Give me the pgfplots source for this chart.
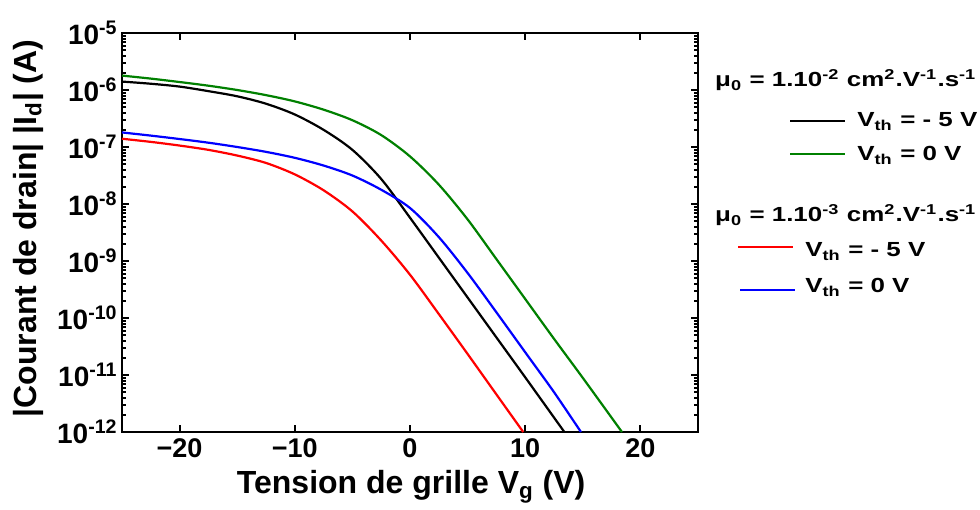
\documentclass[border=0pt]{standalone}
\usepackage{fontspec}
\setmainfont{Liberation Sans}
\usepackage{graphicx}
\usepackage{pgfplots}
\pgfplotsset{compat=1.18}

\definecolor{cgreen}{RGB}{0,128,0}
\newcommand{\legfont}{\bfseries\fontsize{10.2}{12}\selectfont}
\newcommand{\leg}[1]{{\legfont\scalebox{1.27}[1]{#1}}}

% mu0 = 1e-2, Vth = -5 V
\pgfplotstableread{
x y
-25 1.406e-6
-22.5 1.288e-6
-20 1.148e-6
-17.5 9.55e-7
-15 7.76e-7
-12.5 5.75e-7
-10 3.72e-7
-7.5 2.0e-7
-5 8.91e-8
-2.5 2.75e-8
0 5.75e-9
2.5 1.148e-9
5 2.29e-10
7.5 4.57e-11
10 9.12e-12
13.4 1.0e-12
}\blackdata
% mu0 = 1e-2, Vth = 0 V
\pgfplotstableread{
x y
-25 1.79e-6
-22.5 1.585e-6
-20 1.38e-6
-17.5 1.19e-6
-15 1.0e-6
-12.5 8.13e-7
-10 6.31e-7
-7.5 4.52e-7
-5 2.95e-7
-2.5 1.62e-7
0 6.84e-8
2.5 2.19e-8
5 5.37e-9
7.5 1.08e-9
10 2.16e-10
12.5 4.32e-11
15 8.91e-12
18.4 1.0e-12
}\greendata
% mu0 = 1e-3, Vth = -5 V
\pgfplotstableread{
x y
-25 1.396e-7
-22.5 1.23e-7
-20 1.06e-7
-17.5 8.91e-8
-15 7.08e-8
-12.5 5.25e-8
-10 3.31e-8
-7.5 1.74e-8
-5 7.41e-9
-2.5 2.29e-9
0 5.75e-10
2.5 1.175e-10
5 2.34e-11
7.5 4.57e-12
9.83 1.0e-12
}\reddata
% mu0 = 1e-3, Vth = 0 V
\pgfplotstableread{
x y
-25 1.80e-7
-22.5 1.585e-7
-20 1.38e-7
-17.5 1.19e-7
-15 1.0e-7
-12.5 8.22e-8
-10 6.46e-8
-7.5 4.73e-8
-5 3.16e-8
-2.5 1.78e-8
0 8.51e-9
2.5 2.63e-9
5 6.17e-10
7.5 1.26e-10
10 2.51e-11
12.5 5.01e-12
14.84 1.0e-12
}\bluedata

\begin{document}
\begin{tikzpicture}
\begin{scope}[x=0.5pt,y=-0.5pt,shift={(-122,-432)}]
\path[use as bounding box] (0,0) rectangle (980,502);
\end{scope}

\begin{axis}[
    at={(0,0)}, anchor=south west,
    width=288pt, height=199.5pt, scale only axis,
    xmin=-25, xmax=25,
    ymode=log, ymin=1e-12, ymax=1e-5,
    axis line style={line width=1.4pt},
    tick align=inside,
    every tick/.style={line width=1pt, black},
    major tick length=3.5pt,
    minor tick length=2pt,
    xtick={-20,-10,0,10,20},
    xticklabels={−20,−10,0,10,20},
    minor x tick num=0,
    ytick={1e-12,1e-11,1e-10,1e-9,1e-8,1e-7,1e-6,1e-5},
    yticklabels={10\textsuperscript{-12},10\textsuperscript{-11},10\textsuperscript{-10},10\textsuperscript{-9},
                 10\textsuperscript{-8},10\textsuperscript{-7},10\textsuperscript{-6},10\textsuperscript{-5}},
    minor ytick={2e-12,3e-12,4e-12,5e-12,6e-12,7e-12,8e-12,9e-12,
                 2e-11,3e-11,4e-11,5e-11,6e-11,7e-11,8e-11,9e-11,
                 2e-10,3e-10,4e-10,5e-10,6e-10,7e-10,8e-10,9e-10,
                 2e-9,3e-9,4e-9,5e-9,6e-9,7e-9,8e-9,9e-9,
                 2e-8,3e-8,4e-8,5e-8,6e-8,7e-8,8e-8,9e-8,
                 2e-7,3e-7,4e-7,5e-7,6e-7,7e-7,8e-7,9e-7,
                 2e-6,3e-6,4e-6,5e-6,6e-6,7e-6,8e-6,9e-6},
    xticklabel style={font=\bfseries\fontsize{13.5}{14}\selectfont},
    yticklabel style={font=\bfseries\fontsize{14}{15}\selectfont, inner xsep=2pt},
    xlabel={Tension de grille V\textsubscript{g} (V)},
    ylabel={|Courant de drain| |I\textsubscript{d}| (A)},
    xlabel style={font=\bfseries\fontsize{16}{18}\selectfont, at={(axis description cs:0.502,-0.153)}, anchor=base},
    ylabel style={font=\bfseries\fontsize{16}{18}\selectfont, at={(axis description cs:-0.163,0.51)}, anchor=center},
]
\addplot[black, line width=1.1pt, smooth] table {\blackdata};
\addplot[cgreen, line width=1.1pt, smooth] table {\greendata};
\addplot[red, line width=1.1pt, smooth] table {\reddata};
\addplot[blue, line width=1.1pt, smooth] table {\bluedata};
\end{axis}

\begin{scope}[x=0.5pt,y=-0.5pt,shift={(-122,-432)}]
\node[anchor=base east, inner sep=0pt] at (977,87) {\leg{μ\textsubscript{0} = 1.10\textsuperscript{-2} cm\textsuperscript{2}.V\textsuperscript{-1}.s\textsuperscript{-1}}};
\draw[black, line width=1pt] (790,121) -- (845,121);
\node[anchor=base west, inner sep=0pt] at (857,127) {\leg{V\textsubscript{th} = - 5 V}};
\draw[cgreen, line width=1pt] (790,154) -- (845,154);
\node[anchor=base west, inner sep=0pt] at (857,161) {\leg{V\textsubscript{th} = 0 V}};
\node[anchor=base east, inner sep=0pt] at (977,222) {\leg{μ\textsubscript{0} = 1.10\textsuperscript{-3} cm\textsuperscript{2}.V\textsuperscript{-1}.s\textsuperscript{-1}}};
\draw[red, line width=1pt] (738,247) -- (793,247);
\node[anchor=base west, inner sep=0pt] at (805,257) {\leg{V\textsubscript{th} = - 5 V}};
\draw[blue, line width=1pt] (740,290) -- (795,290);
\node[anchor=base west, inner sep=0pt] at (805,293) {\leg{V\textsubscript{th} = 0 V}};
\end{scope}
\end{tikzpicture}
\end{document}
